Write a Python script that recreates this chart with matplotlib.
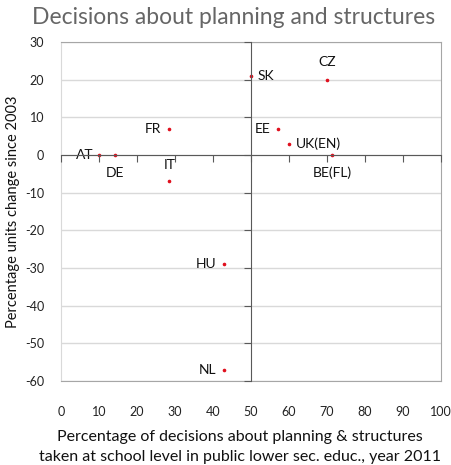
import matplotlib
matplotlib.use("Agg")
import matplotlib.pyplot as plt

# share of planning & structures decisions taken at school level (2011)
# vs. change since 2003 (percentage units)
countries = ['AT', 'DE', 'FR', 'IT', 'SK', 'CZ', 'EE', 'UK(EN)', 'BE(FL)', 'HU', 'NL']
school_share = [10, 14.3, 28.5, 28.5, 49.9, 70, 57, 60, 71.4, 42.8, 42.8]
change_2003 = [0, 0, 7, -7, 21, 20, 7, 3, 0, -29, -57]
# label placement: (dx, dy) in points, ha, va
label_pos = {
    'AT': (-4, 0, 'right', 'center'),
    'DE': (0, -13, 'center', 'center'),
    'FR': (-6, 0, 'right', 'center'),
    'IT': (0, 12, 'center', 'center'),
    'SK': (5, 0, 'left', 'center'),
    'CZ': (0, 13, 'center', 'center'),
    'EE': (-5, 0, 'right', 'center'),
    'UK(EN)': (5, 0, 'left', 'center'),
    'BE(FL)': (0, -13, 'center', 'center'),
    'HU': (-5, 0, 'right', 'center'),
    'NL': (-5, 0, 'right', 'center'),
}

plt.rcParams['font.family'] = ['Lato', 'DejaVu Sans']
plt.rcParams['axes.unicode_minus'] = False

fig = plt.figure(figsize=(4.51, 4.65), dpi=100)
pos = [61 / 451, 1 - 381 / 465, 380 / 451, 339 / 465]
ax = fig.add_axes(pos)

ax.set_xlim(0, 100)
ax.set_ylim(-60, 30)
ax.set_xticks(range(0, 101, 10))
ax.set_yticks(range(-60, 31, 10))
ax.grid(axis='y', color='#d9d9d9', linewidth=1)
ax.set_axisbelow(True)
for s in ['top', 'right', 'bottom']:
    ax.spines[s].set_color('#a6a6a6')
ax.spines['left'].set_color('#d9d9d9')
ax.tick_params(axis='both', length=0, labelsize=9, colors='#222222')
ax.tick_params(axis='x', pad=18)
ax.tick_params(axis='y', pad=12)

ax.plot(school_share, change_2003, 'o', color='#e0101e', markersize=1.6, zorder=5)
for c, x, y in zip(countries, school_share, change_2003):
    dx, dy, ha, va = label_pos[c]
    ax.annotate(c, (x, y), xytext=(dx, dy), textcoords='offset points',
                ha=ha, va=va, fontsize=10, color='#111111')

# crossing axes at x=50 / y=0
ax2 = fig.add_axes(pos, sharex=ax, sharey=ax)
ax2.patch.set_visible(False)
for s in ['top', 'right']:
    ax2.spines[s].set_visible(False)
ax2.spines['left'].set_position(('data', 50))
ax2.spines['bottom'].set_position(('data', 0))
ax2.spines['left'].set_color('#595959')
ax2.spines['bottom'].set_color('#595959')
ax2.tick_params(axis='both', direction='out', length=5, color='#595959',
                labelleft=False, labelbottom=False)

fig.text(0.517, 0.963, 'Decisions about planning and structures',
         ha='center', va='center', fontsize=16.5, color='#666666')
ax.set_ylabel('Percentage units change since 2003', fontsize=10.5, color='#111111', labelpad=4)
fig.text(0.532, 1 - 437 / 465, 'Percentage of decisions about planning & structures',
         ha='center', va='center', fontsize=11.5, color='#111111')
fig.text(0.532, 1 - 457 / 465, 'taken at school level in public lower sec. educ., year 2011',
         ha='center', va='center', fontsize=11.5, color='#111111')

fig.savefig('out.png', dpi=100)
